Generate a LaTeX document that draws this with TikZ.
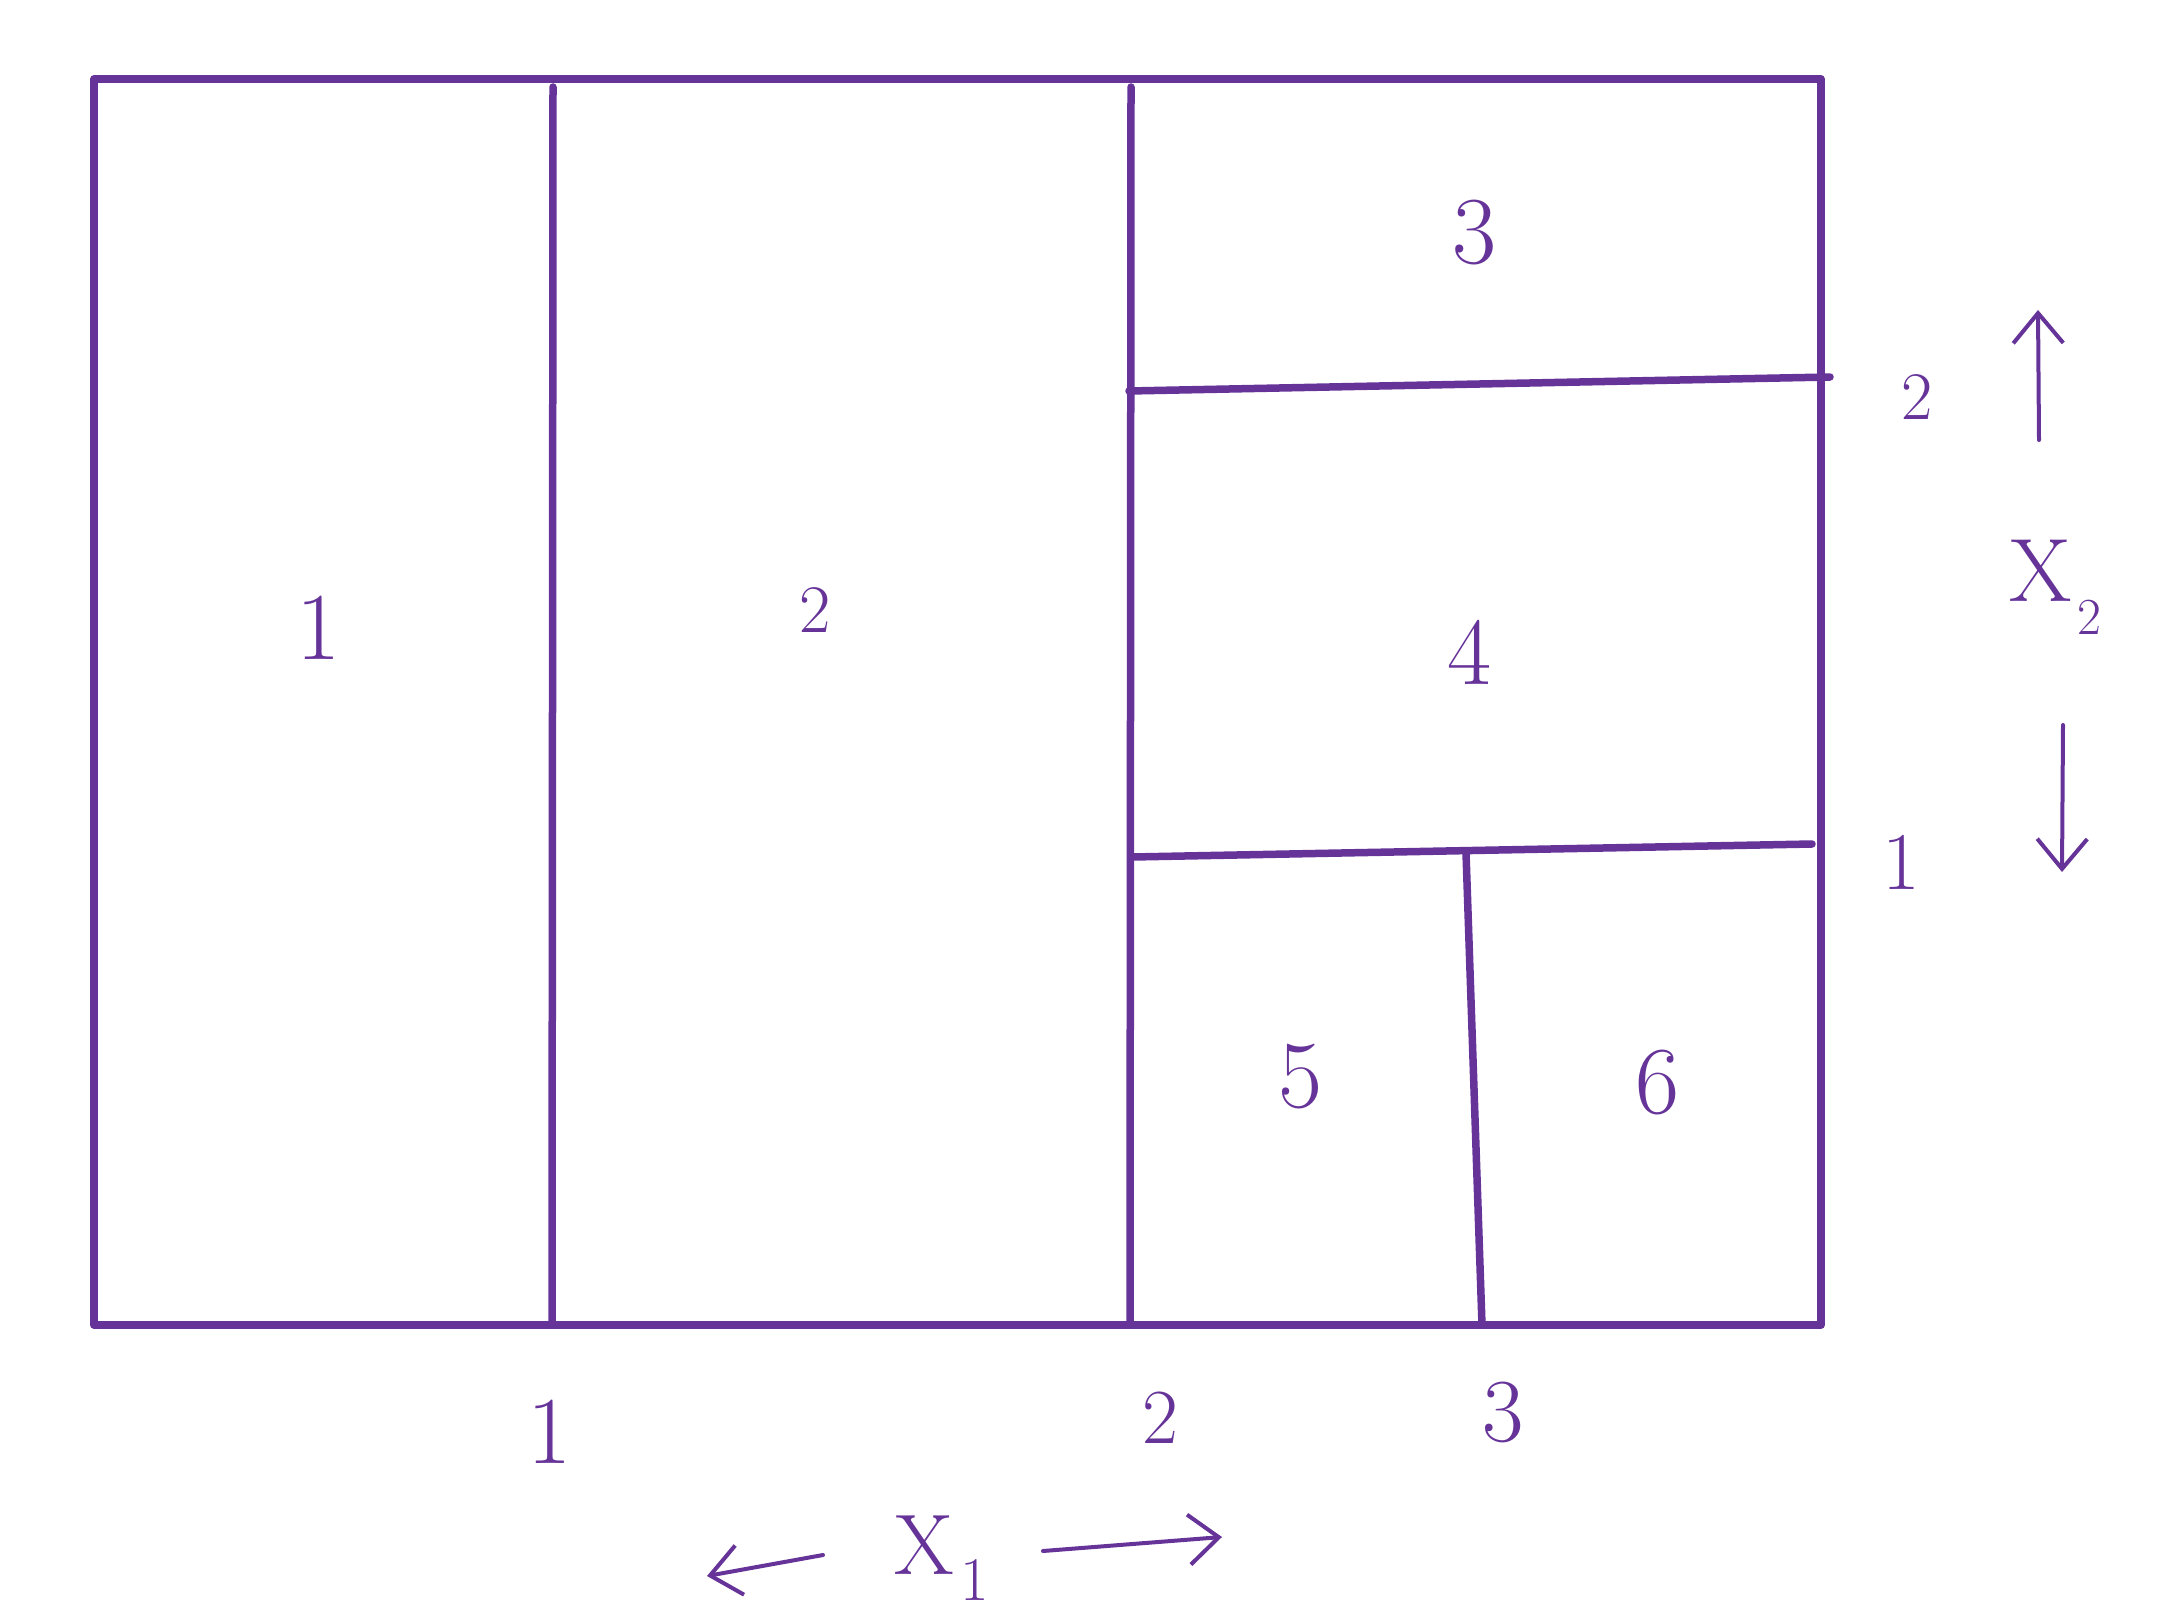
\documentclass[tikz,border=0pt]{standalone}
\usetikzlibrary{arrows.meta}
\definecolor{pen}{RGB}{102,51,153}
\begin{document}
\begin{tikzpicture}[x=1pt,y=-1pt,
  stroke/.style={draw=pen,line width=7.5pt,line cap=round,line join=round},
  thin stroke/.style={draw=pen,line width=4pt,line cap=round,line join=round,-{Straight Barb[length=30pt,width=50pt,line width=4pt]}},
  lbl/.style={text=pen,inner sep=0pt},
  big/.style={lbl,font=\fontsize{96}{110}\selectfont},
  mid/.style={lbl,font=\fontsize{68}{80}\selectfont}]
\useasboundingbox (0,0) rectangle (2158,1616);
% corners
\coordinate (tl) at (94,79);
\coordinate (tr) at (1821,79);
\coordinate (br) at (1821,1325);
\coordinate (bl) at (94,1325);
\draw[stroke] (tl) -- (tr) -- (br) -- (bl) -- cycle;
% verticals
\coordinate (v1t) at (553,87);
\coordinate (v1b) at (552,1322);
\coordinate (v2t) at (1131,87);
\coordinate (v2b) at (1130,1322);
\draw[stroke] (v1t) -- (v1b);
\draw[stroke] (v2t) -- (v2b);
% horizontals
\coordinate (h1a) at (1129,391);
\coordinate (h1b) at (1830,377);
\coordinate (h2a) at (1132,857);
\coordinate (h2b) at (1812,844);
\draw[stroke] (h1a) -- (h1b);
\draw[stroke] (h2a) -- (h2b);
% slanted
\coordinate (sa) at (1466,853);
\coordinate (sb) at (1482,1325);
\draw[stroke] (sa) -- (sb);
% region labels
\node[big] (r1) at (319,628) {1};
\node[mid] (r2) at (815,610) {2};
\node[big] (r3) at (1475,233) {3};
\node[big] (r4) at (1470,652) {4};
\node[big] (r5) at (1301,1077) {5};
\node[big] (r6) at (1658,1083) {6};
% right labels
\node[mid] (y2) at (1917,397) {2};
\node[lbl,font=\fontsize{82}{96}\selectfont] (y1) at (1901,862) {1};
% bottom labels
\node[big] (b1) at (550,1432) {1};
\node[lbl,font=\fontsize{78}{90}\selectfont] (b2) at (1160,1418) {2};
\node[lbl,font=\fontsize{90}{104}\selectfont] (b3) at (1503,1412) {3};
% axis labels
\node[lbl,font=\fontsize{90}{104}\selectfont] (X2) at (2041,571) {X};
\node[lbl,font=\fontsize{52}{62}\selectfont] (X2s) at (2089,617) {2};
\node[lbl,font=\fontsize{86}{100}\selectfont] (X1) at (924,1545) {X};
\node[lbl,font=\fontsize{62}{72}\selectfont] (X1s) at (975,1580) {1};
% arrows
\coordinate (ua) at (2039,440);
\coordinate (ub) at (2038,310);
\coordinate (da) at (2063,725);
\coordinate (db) at (2062,872);
\coordinate (la) at (823,1555);
\coordinate (lb) at (707,1576);
\coordinate (ra) at (1043,1551);
\coordinate (rb) at (1222,1537);
\draw[thin stroke] (ua) -- (ub);
\draw[thin stroke] (da) -- (db);
\draw[thin stroke] (la) -- (lb);
\draw[thin stroke] (ra) -- (rb);
\end{tikzpicture}
\end{document}
